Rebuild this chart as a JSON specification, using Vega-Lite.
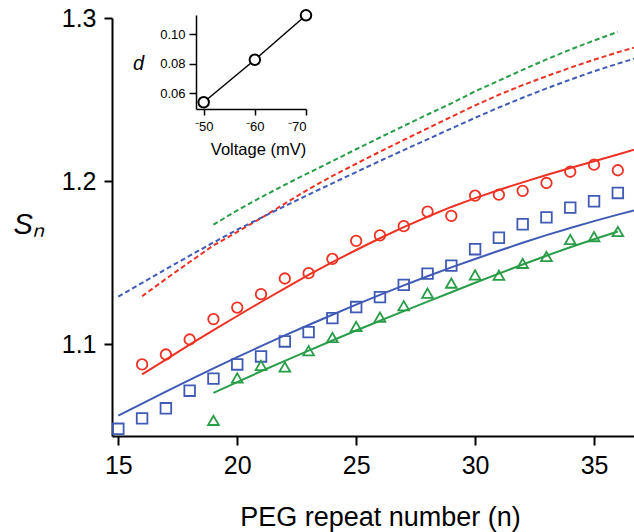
{
  "$schema": "https://vega.github.io/schema/vega-lite/v6.json",
  "width": 522,
  "height": 418,
  "autosize": "none",
  "padding": {"left": 112, "top": 18, "right": 0, "bottom": 96},
  "config": {"view": {"stroke": null}, "font": "Liberation Sans", "axis": {"grid": false, "domainColor": "black", "tickColor": "black", "labelColor": "black", "titleColor": "black", "titleFontWeight": "normal"}},
  "datasets": {
    "points": [
      {"series": "red", "n": 16, "S": 1.0875}, {"series": "red", "n": 17, "S": 1.0936}, {"series": "red", "n": 18, "S": 1.1028}, {"series": "red", "n": 19, "S": 1.1153}, {"series": "red", "n": 20, "S": 1.1224}, {"series": "red", "n": 21, "S": 1.1306}, {"series": "red", "n": 22, "S": 1.1402}, {"series": "red", "n": 23, "S": 1.1435}, {"series": "red", "n": 24, "S": 1.1522}, {"series": "red", "n": 25, "S": 1.1633}, {"series": "red", "n": 26, "S": 1.1667}, {"series": "red", "n": 27, "S": 1.1723}, {"series": "red", "n": 28, "S": 1.1812}, {"series": "red", "n": 29, "S": 1.1786}, {"series": "red", "n": 30, "S": 1.191}, {"series": "red", "n": 31, "S": 1.1916}, {"series": "red", "n": 32, "S": 1.194}, {"series": "red", "n": 33, "S": 1.1988}, {"series": "red", "n": 34, "S": 1.2057}, {"series": "red", "n": 35, "S": 1.21}, {"series": "red", "n": 36, "S": 1.2066},
      {"series": "blue", "n": 15, "S": 1.048}, {"series": "blue", "n": 16, "S": 1.0544}, {"series": "blue", "n": 17, "S": 1.0606}, {"series": "blue", "n": 18, "S": 1.0714}, {"series": "blue", "n": 19, "S": 1.0788}, {"series": "blue", "n": 20, "S": 1.0875}, {"series": "blue", "n": 21, "S": 1.0924}, {"series": "blue", "n": 22, "S": 1.1016}, {"series": "blue", "n": 23, "S": 1.1073}, {"series": "blue", "n": 24, "S": 1.1159}, {"series": "blue", "n": 25, "S": 1.1227}, {"series": "blue", "n": 26, "S": 1.1288}, {"series": "blue", "n": 27, "S": 1.1363}, {"series": "blue", "n": 28, "S": 1.1432}, {"series": "blue", "n": 29, "S": 1.1481}, {"series": "blue", "n": 30, "S": 1.1582}, {"series": "blue", "n": 31, "S": 1.1652}, {"series": "blue", "n": 32, "S": 1.1735}, {"series": "blue", "n": 33, "S": 1.1777}, {"series": "blue", "n": 34, "S": 1.1837}, {"series": "blue", "n": 35, "S": 1.1876}, {"series": "blue", "n": 36, "S": 1.1927},
      {"series": "green", "n": 19, "S": 1.0532}, {"series": "green", "n": 20, "S": 1.0792}, {"series": "green", "n": 21, "S": 1.0869}, {"series": "green", "n": 22, "S": 1.0859}, {"series": "green", "n": 23, "S": 1.0959}, {"series": "green", "n": 24, "S": 1.104}, {"series": "green", "n": 25, "S": 1.1108}, {"series": "green", "n": 26, "S": 1.1165}, {"series": "green", "n": 27, "S": 1.1235}, {"series": "green", "n": 28, "S": 1.1312}, {"series": "green", "n": 29, "S": 1.1374}, {"series": "green", "n": 30, "S": 1.1424}, {"series": "green", "n": 31, "S": 1.1422}, {"series": "green", "n": 32, "S": 1.1495}, {"series": "green", "n": 33, "S": 1.1537}, {"series": "green", "n": 34, "S": 1.1641}, {"series": "green", "n": 35, "S": 1.1659}, {"series": "green", "n": 36, "S": 1.169}
    ],
    "fits": [
      {"series": "red", "n": 16, "S": 1.0814}, {"series": "red", "n": 17, "S": 1.0905}, {"series": "red", "n": 18, "S": 1.0996}, {"series": "red", "n": 19, "S": 1.1086}, {"series": "red", "n": 20, "S": 1.1172}, {"series": "red", "n": 21, "S": 1.1258}, {"series": "red", "n": 22, "S": 1.1342}, {"series": "red", "n": 23, "S": 1.1424}, {"series": "red", "n": 24, "S": 1.1502}, {"series": "red", "n": 25, "S": 1.1577}, {"series": "red", "n": 26, "S": 1.1649}, {"series": "red", "n": 27, "S": 1.1717}, {"series": "red", "n": 28, "S": 1.1781}, {"series": "red", "n": 29, "S": 1.1841}, {"series": "red", "n": 30, "S": 1.1895}, {"series": "red", "n": 31, "S": 1.1945}, {"series": "red", "n": 32, "S": 1.1992}, {"series": "red", "n": 33, "S": 1.2037}, {"series": "red", "n": 34, "S": 1.208}, {"series": "red", "n": 35, "S": 1.2121}, {"series": "red", "n": 36, "S": 1.2163}, {"series": "red", "n": 36.68, "S": 1.2192},
      {"series": "blue", "n": 15, "S": 1.0561}, {"series": "blue", "n": 16, "S": 1.0635}, {"series": "blue", "n": 17, "S": 1.0708}, {"series": "blue", "n": 18, "S": 1.078}, {"series": "blue", "n": 19, "S": 1.0851}, {"series": "blue", "n": 20, "S": 1.092}, {"series": "blue", "n": 21, "S": 1.0987}, {"series": "blue", "n": 22, "S": 1.1053}, {"series": "blue", "n": 23, "S": 1.1117}, {"series": "blue", "n": 24, "S": 1.118}, {"series": "blue", "n": 25, "S": 1.1242}, {"series": "blue", "n": 26, "S": 1.1302}, {"series": "blue", "n": 27, "S": 1.136}, {"series": "blue", "n": 28, "S": 1.1416}, {"series": "blue", "n": 29, "S": 1.147}, {"series": "blue", "n": 30, "S": 1.1522}, {"series": "blue", "n": 31, "S": 1.1572}, {"series": "blue", "n": 32, "S": 1.1621}, {"series": "blue", "n": 33, "S": 1.1668}, {"series": "blue", "n": 34, "S": 1.1712}, {"series": "blue", "n": 35, "S": 1.1754}, {"series": "blue", "n": 36, "S": 1.1794}, {"series": "blue", "n": 36.68, "S": 1.182},
      {"series": "green", "n": 19, "S": 1.07}, {"series": "green", "n": 20, "S": 1.0767}, {"series": "green", "n": 21, "S": 1.0833}, {"series": "green", "n": 22, "S": 1.0897}, {"series": "green", "n": 23, "S": 1.096}, {"series": "green", "n": 24, "S": 1.1022}, {"series": "green", "n": 25, "S": 1.1083}, {"series": "green", "n": 26, "S": 1.1143}, {"series": "green", "n": 27, "S": 1.1202}, {"series": "green", "n": 28, "S": 1.126}, {"series": "green", "n": 29, "S": 1.1318}, {"series": "green", "n": 30, "S": 1.1376}, {"series": "green", "n": 31, "S": 1.1432}, {"series": "green", "n": 32, "S": 1.1488}, {"series": "green", "n": 33, "S": 1.1542}, {"series": "green", "n": 34, "S": 1.1594}, {"series": "green", "n": 35, "S": 1.1643}, {"series": "green", "n": 36, "S": 1.169}
    ],
    "theory": [
      {"series": "red", "n": 16, "S": 1.1293}, {"series": "red", "n": 17, "S": 1.14}, {"series": "red", "n": 18, "S": 1.1503}, {"series": "red", "n": 19, "S": 1.1605}, {"series": "red", "n": 20, "S": 1.1688}, {"series": "red", "n": 21, "S": 1.1772}, {"series": "red", "n": 22, "S": 1.1862}, {"series": "red", "n": 23, "S": 1.195}, {"series": "red", "n": 24, "S": 1.2031}, {"series": "red", "n": 25, "S": 1.2106}, {"series": "red", "n": 26, "S": 1.218}, {"series": "red", "n": 27, "S": 1.2252}, {"series": "red", "n": 28, "S": 1.2323}, {"series": "red", "n": 29, "S": 1.2394}, {"series": "red", "n": 30, "S": 1.2464}, {"series": "red", "n": 31, "S": 1.2529}, {"series": "red", "n": 32, "S": 1.2588}, {"series": "red", "n": 33, "S": 1.2643}, {"series": "red", "n": 34, "S": 1.2695}, {"series": "red", "n": 35, "S": 1.2744}, {"series": "red", "n": 36, "S": 1.279}, {"series": "red", "n": 36.68, "S": 1.2818},
      {"series": "blue", "n": 15, "S": 1.1291}, {"series": "blue", "n": 16, "S": 1.1375}, {"series": "blue", "n": 17, "S": 1.1459}, {"series": "blue", "n": 18, "S": 1.1542}, {"series": "blue", "n": 19, "S": 1.1623}, {"series": "blue", "n": 20, "S": 1.1702}, {"series": "blue", "n": 21, "S": 1.1774}, {"series": "blue", "n": 22, "S": 1.1846}, {"series": "blue", "n": 23, "S": 1.1917}, {"series": "blue", "n": 24, "S": 1.1986}, {"series": "blue", "n": 25, "S": 1.2055}, {"series": "blue", "n": 26, "S": 1.2123}, {"series": "blue", "n": 27, "S": 1.219}, {"series": "blue", "n": 28, "S": 1.2256}, {"series": "blue", "n": 29, "S": 1.2322}, {"series": "blue", "n": 30, "S": 1.2388}, {"series": "blue", "n": 31, "S": 1.2451}, {"series": "blue", "n": 32, "S": 1.2511}, {"series": "blue", "n": 33, "S": 1.2568}, {"series": "blue", "n": 34, "S": 1.2622}, {"series": "blue", "n": 35, "S": 1.2673}, {"series": "blue", "n": 36, "S": 1.272}, {"series": "blue", "n": 36.68, "S": 1.275},
      {"series": "green", "n": 19, "S": 1.1732}, {"series": "green", "n": 20, "S": 1.182}, {"series": "green", "n": 21, "S": 1.19}, {"series": "green", "n": 22, "S": 1.1977}, {"series": "green", "n": 23, "S": 1.205}, {"series": "green", "n": 24, "S": 1.2122}, {"series": "green", "n": 25, "S": 1.2195}, {"series": "green", "n": 26, "S": 1.2267}, {"series": "green", "n": 27, "S": 1.2338}, {"series": "green", "n": 28, "S": 1.2408}, {"series": "green", "n": 29, "S": 1.2476}, {"series": "green", "n": 30, "S": 1.255}, {"series": "green", "n": 31, "S": 1.2616}, {"series": "green", "n": 32, "S": 1.2682}, {"series": "green", "n": 33, "S": 1.2746}, {"series": "green", "n": 34, "S": 1.2806}, {"series": "green", "n": 35, "S": 1.2862}, {"series": "green", "n": 36, "S": 1.2915}
    ],
    "inset": [
      {"v": -50, "d": 0.0537}, {"v": -60, "d": 0.0827}, {"v": -70, "d": 0.113}
    ]
  },
  "layer": [
    {
      "encoding": {
        "x": {"field": "n", "type": "quantitative",
          "scale": {"domain": [14.735, 36.68], "nice": false, "zero": false},
          "axis": {"orient": "bottom", "values": [15, 20, 25, 30, 35], "labelFontSize": 25, "labelPadding": 8, "tickSize": 9, "tickWidth": 2, "domainWidth": 2,
            "title": "PEG repeat number (n)", "titleFontSize": 27, "titleX": 268, "titleY": 89, "titleBaseline": "alphabetic", "titleAlign": "center", "titleAnchor": null}},
        "y": {"field": "S", "type": "quantitative",
          "scale": {"domain": [1.0436, 1.3], "nice": false, "zero": false},
          "axis": {"orient": "left", "values": [1.1, 1.2, 1.3], "format": ".1f", "labelFontSize": 25, "labelPadding": 8, "tickSize": 8, "tickWidth": 2, "domainWidth": 2,
            "title": "Sₙ", "titleFontSize": 29, "titleFontStyle": "italic", "titleAngle": 0, "titleX": -99, "titleY": 206, "titleAlign": "left", "titleBaseline": "middle"}},
        "color": {"field": "series", "type": "nominal",
          "scale": {"domain": ["red", "blue", "green"], "range": ["#ED3224", "#3F5BB5", "#2A9D48"]}, "legend": null}
      },
      "layer": [
        {"data": {"name": "theory"}, "mark": {"type": "line", "strokeWidth": 2, "strokeDash": [5, 3], "strokeCap": "butt"}},
        {"data": {"name": "fits"}, "mark": {"type": "line", "strokeWidth": 2}},
        {"data": {"name": "points"}, "mark": {"type": "point", "filled": false, "strokeWidth": 1.8, "opacity": 1},
          "encoding": {
            "shape": {"field": "series", "type": "nominal", "scale": {"domain": ["red", "blue", "green"], "range": ["circle", "square", "triangle-up"]}, "legend": null},
            "size": {"field": "series", "type": "nominal", "scale": {"domain": ["red", "blue", "green"], "range": [110, 115, 160]}, "legend": null}
          }}
      ]
    },
    {
      "data": {"name": "inset"},
      "encoding": {
        "x": {"field": "v", "type": "quantitative",
          "scale": {"domain": [-70, -48.5], "reverse": true, "range": [84, 194], "nice": false, "zero": false},
          "axis": {"orient": "bottom", "offset": -327, "values": [-50, -60, -70], "labelExpr": "'⁻' + abs(datum.value)", "labelFontSize": 13, "labelPadding": 5, "tickSize": 6, "tickWidth": 1.5, "domainWidth": 1.5,
            "title": "Voltage (mV)", "titleFontSize": 16.5, "titleX": 146, "titleY": 45, "titleBaseline": "alphabetic", "titleAlign": "center", "titleAnchor": null}},
        "y": {"field": "d", "type": "quantitative",
          "scale": {"domain": [0.0491, 0.1132], "range": [91, -3], "nice": false, "zero": false},
          "axis": {"orient": "left", "offset": -84, "values": [0.06, 0.08, 0.1], "format": ".2f", "labelFontSize": 13, "labelPadding": 4, "tickSize": 7, "tickWidth": 1.5, "domainWidth": 1.5,
            "title": "d", "titleFontSize": 20, "titleFontStyle": "italic", "titleAngle": 0, "titleX": -58, "titleY": 45, "titleAlign": "center", "titleBaseline": "middle"}}
      },
      "layer": [
        {"mark": {"type": "line", "color": "black", "strokeWidth": 1.5}},
        {"mark": {"type": "point", "shape": "circle", "filled": true, "fill": "white", "stroke": "black", "strokeWidth": 2, "size": 110, "opacity": 1}}
      ]
    }
  ],
  "resolve": {"scale": {"x": "independent", "y": "independent"}}
}
